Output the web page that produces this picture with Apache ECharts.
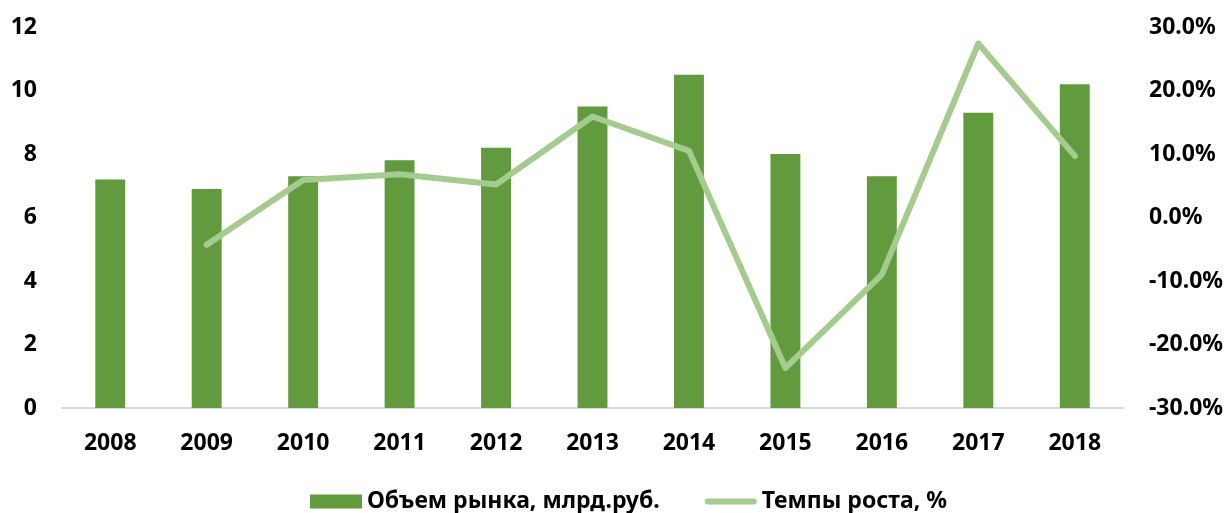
<!DOCTYPE html>
<html>
<head>
<meta charset="utf-8">
<script src="https://cdn.jsdelivr.net/npm/echarts@6/dist/echarts.min.js"></script>
<style>
  html, body { margin: 0; padding: 0; background: #fff; }
  #chart { width: 1227px; height: 513px; }
</style>
</head>
<body>
<div id="chart"></div>
<script>
// data
let years = ['2008', '2009', '2010', '2011', '2012', '2013', '2014', '2015', '2016', '2017', '2018'];
let marketVolume = [7.2, 6.9, 7.3, 7.8, 8.2, 9.5, 10.5, 8.0, 7.3, 9.3, 10.2];
let growthRate = [null, -4.3, 5.9, 6.8, 5.2, 15.9, 10.5, -23.7, -9.0, 27.4, 9.7];
let volumeName = 'Объем рынка, млрд.руб.';
let growthName = 'Темпы роста, %';

let font = '"Noto Sans", Lato, sans-serif';
let barColor = '#629A3E';
let lineColor = '#A6CB8F';

var chart = echarts.init(document.getElementById('chart'));

option = {
    backgroundColor: '#fff',
    animation: false,
    textStyle: {
        fontFamily: font
    },
    grid: {
        left: 62,
        right: 104,
        top: 27,
        bottom: 105
    },
    legend: {
        left: 305,
        top: 485,
        itemWidth: 52,
        itemHeight: 14,
        itemGap: 45,
        textStyle: {
            fontFamily: font,
            fontSize: 23,
            fontWeight: 'bold',
            color: '#000'
        },
        data: [{
            name: volumeName,
            icon: 'rect'
        }, {
            name: growthName,
            icon: 'path://M3,0 h46 a3,3 0 0 1 0,6 h-46 a3,3 0 0 1 0,-6 z'
        }]
    },
    xAxis: {
        type: 'category',
        data: years,
        axisTick: { show: false },
        axisLine: {
            lineStyle: { color: '#D9D9D9', width: 2 }
        },
        axisLabel: {
            margin: 24,
            fontSize: 23,
            fontWeight: 'bold',
            color: '#000'
        }
    },
    yAxis: [{
        type: 'value',
        min: 0,
        max: 12,
        interval: 2,
        splitLine: { show: false },
        axisLine: { show: false },
        axisTick: { show: false },
        axisLabel: {
            margin: 25,
            fontSize: 23,
            fontWeight: 'bold',
            color: '#000'
        }
    }, {
        type: 'value',
        min: -30,
        max: 30,
        interval: 10,
        splitLine: { show: false },
        axisLine: { show: false },
        axisTick: { show: false },
        axisLabel: {
            margin: 26,
            fontSize: 23,
            fontWeight: 'bold',
            color: '#000',
            formatter: v => v.toFixed(1) + '%'
        }
    }],
    series: [{
        name: volumeName,
        type: 'bar',
        data: marketVolume,
        barWidth: '31%',
        itemStyle: { color: barColor }
    }, {
        name: growthName,
        type: 'line',
        yAxisIndex: 1,
        data: growthRate,
        symbol: 'none',
        lineStyle: {
            color: lineColor,
            width: 6,
            cap: 'round',
            join: 'round'
        },
        itemStyle: { color: lineColor }
    }]
};
chart.setOption(option);
</script>
</body>
</html>
